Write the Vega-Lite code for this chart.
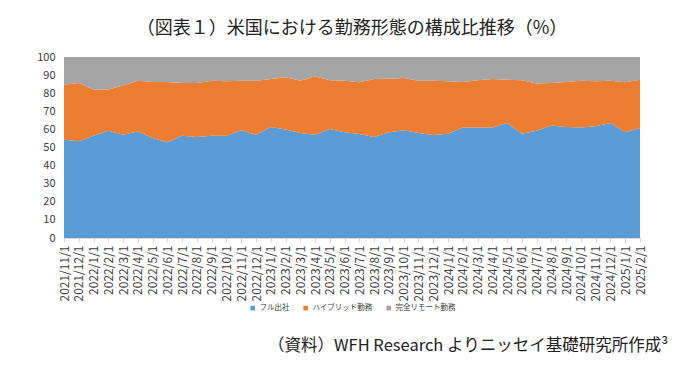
{
  "$schema": "https://vega.github.io/schema/vega-lite/v6.json",
  "background": "white",
  "padding": {"left": 36, "top": 20, "right": 10, "bottom": 6},
  "config": {"view": {"stroke": null}, "font": "Noto Sans CJK JP"},
  "title": {"text": "（資料）WFH Research よりニッセイ基礎研究所作成³", "orient": "bottom", "anchor": "end", "fontSize": 16.5, "fontWeight": "normal", "color": "#222222", "offset": 26, "dx": 22, "font": "Noto Sans CJK JP"},
  "vconcat": [
    {
      "width": 576,
      "height": 181,
      "title": {"text": "（図表１）米国における勤務形態の構成比推移（%）", "fontSize": 18, "fontWeight": "normal", "color": "#222222", "anchor": "middle", "offset": 13, "font": "Noto Sans CJK JP"},
      "data": {"values": [
        {"date": "2021/11/1", "フル出社": 54.3, "ハイブリッド勤務": 30.4, "完全リモート勤務": 15.3},
        {"date": "2021/12/1", "フル出社": 53.4, "ハイブリッド勤務": 32.2, "完全リモート勤務": 14.4},
        {"date": "2022/1/1", "フル出社": 56.5, "ハイブリッド勤務": 25.5, "完全リモート勤務": 18.0},
        {"date": "2022/2/1", "フル出社": 59.3, "ハイブリッド勤務": 22.7, "完全リモート勤務": 18.0},
        {"date": "2022/3/1", "フル出社": 57.1, "ハイブリッド勤務": 27.1, "完全リモート勤務": 15.8},
        {"date": "2022/4/1", "フル出社": 58.9, "ハイブリッド勤務": 28.0, "完全リモート勤務": 13.1},
        {"date": "2022/5/1", "フル出社": 55.2, "ハイブリッド勤務": 31.0, "完全リモート勤務": 13.8},
        {"date": "2022/6/1", "フル出社": 52.9, "ハイブリッド勤務": 33.3, "完全リモート勤務": 13.8},
        {"date": "2022/7/1", "フル出社": 56.5, "ハイブリッド勤務": 29.1, "完全リモート勤務": 14.4},
        {"date": "2022/8/1", "フル出社": 55.8, "ハイブリッド勤務": 29.8, "完全リモート勤務": 14.4},
        {"date": "2022/9/1", "フル出社": 56.5, "ハイブリッド勤務": 30.4, "完全リモート勤務": 13.1},
        {"date": "2022/10/1", "フル出社": 56.5, "ハイブリッド勤務": 30.1, "完全リモート勤務": 13.4},
        {"date": "2022/11/1", "フル出社": 59.5, "ハイブリッド勤務": 27.4, "完全リモート勤務": 13.1},
        {"date": "2022/12/1", "フル出社": 57.1, "ハイブリッド勤務": 29.8, "完全リモート勤務": 13.1},
        {"date": "2023/1/1", "フル出社": 61.3, "ハイブリッド勤務": 26.5, "完全リモート勤務": 12.2},
        {"date": "2023/2/1", "フル出社": 59.9, "ハイブリッド勤務": 28.9, "完全リモート勤務": 11.2},
        {"date": "2023/3/1", "フル出社": 58.0, "ハイブリッド勤務": 28.9, "完全リモート勤務": 13.1},
        {"date": "2023/4/1", "フル出社": 57.1, "ハイブリッド勤務": 32.2, "完全リモート勤務": 10.7},
        {"date": "2023/5/1", "フル出社": 60.2, "ハイブリッド勤務": 26.9, "完全リモート勤務": 12.9},
        {"date": "2023/6/1", "フル出社": 58.4, "ハイブリッド勤務": 28.5, "完全リモート勤務": 13.1},
        {"date": "2023/7/1", "フル出社": 57.5, "ハイブリッド勤務": 28.5, "完全リモート勤務": 14.0},
        {"date": "2023/8/1", "フル出社": 55.8, "ハイブリッド勤務": 32.0, "完全リモート勤務": 12.2},
        {"date": "2023/9/1", "フル出社": 58.4, "ハイブリッド勤務": 29.6, "完全リモート勤務": 12.0},
        {"date": "2023/10/1", "フル出社": 59.5, "ハイブリッド勤務": 28.9, "完全リモート勤務": 11.6},
        {"date": "2023/11/1", "フル出社": 58.0, "ハイブリッド勤務": 28.9, "完全リモート勤務": 13.1},
        {"date": "2023/12/1", "フル出社": 56.9, "ハイブリッド勤務": 30.0, "完全リモート勤務": 13.1},
        {"date": "2024/1/1", "フル出社": 57.6, "ハイブリッド勤務": 29.0, "完全リモート勤務": 13.4},
        {"date": "2024/2/1", "フル出社": 61.1, "ハイブリッド勤務": 25.1, "完全リモート勤務": 13.8},
        {"date": "2024/3/1", "フル出社": 61.1, "ハイブリッド勤務": 26.0, "完全リモート勤務": 12.9},
        {"date": "2024/4/1", "フル出社": 61.1, "ハイブリッド勤務": 26.7, "完全リモート勤務": 12.2},
        {"date": "2024/5/1", "フル出社": 63.5, "ハイブリッド勤務": 24.0, "完全リモート勤務": 12.5},
        {"date": "2024/6/1", "フル出社": 57.6, "ハイブリッド勤務": 29.5, "完全リモート勤務": 12.9},
        {"date": "2024/7/1", "フル出社": 59.3, "ハイブリッド勤務": 26.0, "完全リモート勤務": 14.7},
        {"date": "2024/8/1", "フル出社": 62.1, "ハイブリッド勤務": 23.5, "完全リモート勤務": 14.4},
        {"date": "2024/9/1", "フル出社": 61.3, "ハイブリッド勤務": 24.9, "完全リモート勤務": 13.8},
        {"date": "2024/10/1", "フル出社": 61.1, "ハイブリッド勤務": 25.8, "完全リモート勤務": 13.1},
        {"date": "2024/11/1", "フル出社": 61.7, "ハイブリッド勤務": 24.9, "完全リモート勤務": 13.4},
        {"date": "2024/12/1", "フル出社": 63.5, "ハイブリッド勤務": 23.4, "完全リモート勤務": 13.1},
        {"date": "2025/1/1", "フル出社": 58.4, "ハイブリッド勤務": 27.6, "完全リモート勤務": 14.0},
        {"date": "2025/2/1", "フル出社": 60.8, "ハイブリッド勤務": 26.7, "完全リモート勤務": 12.5}
      ]},
      "transform": [
        {"fold": ["フル出社", "ハイブリッド勤務", "完全リモート勤務"], "as": ["key", "value"]},
        {"calculate": "indexof(['フル出社', 'ハイブリッド勤務', '完全リモート勤務'], datum.key)", "as": "ord"}
      ],
      "mark": {"type": "area", "opacity": 1},
      "encoding": {
        "x": {"field": "date", "type": "ordinal", "sort": null, "scale": {"type": "point", "padding": 0},
          "axis": {"title": null, "labelAngle": -90, "labelFontSize": 12, "labelColor": "#404040", "tickColor": "#d9d9d9", "domainColor": "#d9d9d9", "tickSize": 4, "labelPadding": 3, "labelFont": "Noto Sans CJK JP"}},
        "y": {"field": "value", "type": "quantitative", "stack": "zero", "scale": {"domain": [0, 100], "nice": false},
          "axis": {"title": null, "values": [0, 10, 20, 30, 40, 50, 60, 70, 80, 90, 100], "domain": false, "ticks": false, "grid": false, "labelPadding": 9, "labelFontSize": 11, "labelColor": "#404040", "labelFont": "Noto Sans CJK JP"}},
        "color": {"field": "key", "type": "nominal",
          "scale": {"domain": ["フル出社", "ハイブリッド勤務", "完全リモート勤務"], "range": ["#5B9BD5", "#ED7D31", "#A5A5A5"]},
          "legend": {"title": null, "orient": "none", "direction": "horizontal", "legendX": 185, "legendY": 247, "symbolType": "square", "symbolSize": 22, "labelFontSize": 7.5, "labelOffset": 3, "labelColor": "#404040", "columnPadding": 12, "labelFont": "Noto Sans CJK JP"}},
        "order": {"field": "ord", "type": "quantitative"}
      }
    }
  ]
}
